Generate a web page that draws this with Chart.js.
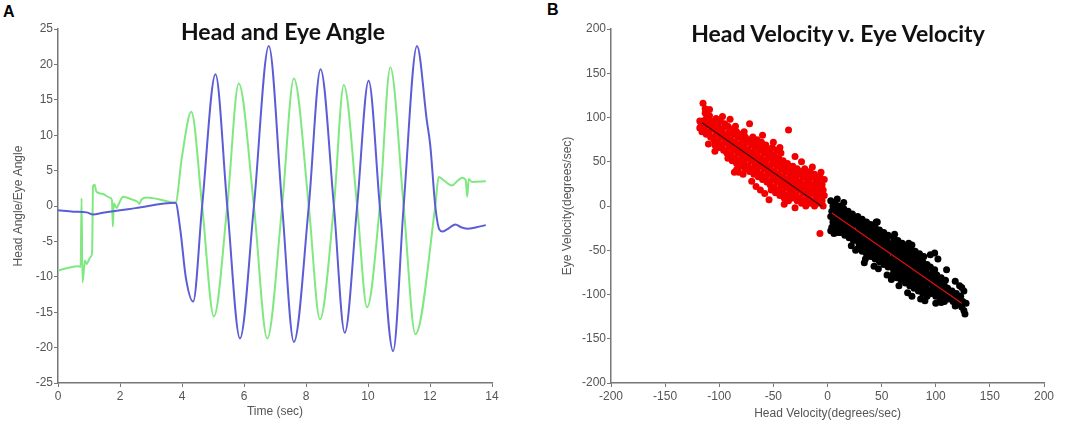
<!DOCTYPE html>
<html>
<head>
<meta charset="utf-8">
<script src="https://cdn.jsdelivr.net/npm/chart.js"></script>
<style>
body{margin:0;background:#fff;width:1084px;height:430px;position:relative;overflow:hidden;font-family:"Liberation Sans",Arial,sans-serif}
canvas{position:absolute;top:0}
#cA{left:0}
#cB{left:540px}
.lbl{position:absolute;font-weight:bold;font-size:16px;color:#000}
.ttl{position:absolute;font-family:Lato,"Open Sans",sans-serif;font-weight:bold;font-size:23px;color:#111;white-space:nowrap;transform:translate(-50%,-50%)}
</style>
</head>
<body>
<div class="lbl" style="left:3px;top:3px">A</div>
<div class="lbl" style="left:547px;top:1px">B</div>
<canvas id="cA" width="540" height="430"></canvas>
<canvas id="cB" width="544" height="430"></canvas>
<div class="ttl" style="left:283px;top:31px">Head and Eye Angle</div>
<div class="ttl" style="left:838px;top:33px">Head Velocity v. Eye Velocity</div>
<script>
// panel A : angles over time (blue = head, green = eye)
const headTime = [0, 0.5, 0.92, 1.13, 1.45, 2.5, 3.79, 3.95, 4.12, 4.36, 4.65, 5.08, 5.46, 5.87, 6.32, 6.80, 7.23, 7.61, 8.09, 8.47, 8.9, 9.25, 9.65, 10.02, 10.38, 10.81, 11.15, 11.58, 11.9, 12.01, 12.17, 12.3, 12.4, 12.55, 12.82, 13.0, 13.2, 13.5, 13.8];
const headAngle = [-0.6, -0.8, -0.9, -1.2, -0.95, -0.3, 0.45, -3.5, -10, -13.5, 0, 18.6, 0, -18.7, 0, 22.6, 0, -19.2, 0, 19.3, 0, -17.9, 0, 17.7, 0, -20.5, 0, 22.6, 12, 8.5, 0, -3.3, -3.6, -3.3, -2.6, -3.0, -3.2, -3.0, -2.7];
const eyeTime = [0, 0.28, 0.65, 0.73, 0.76, 0.79, 0.87, 0.92, 1.05, 1.10, 1.13, 1.18, 1.24, 1.45, 1.66, 1.74, 1.77, 1.80, 1.89, 1.97, 2.10, 2.40, 2.56, 2.63, 2.69, 2.87, 3.35, 3.79, 4.0, 4.30, 4.65, 5.03, 5.46, 5.83, 6.32, 6.75, 7.23, 7.61, 8.09, 8.45, 8.9, 9.22, 9.65, 9.97, 10.38, 10.72, 11.15, 11.53, 12.17, 12.28, 12.45, 12.71, 12.9, 13.03, 13.15, 13.2, 13.25, 13.35, 13.8];
const eyeAngle = [-9.1, -8.8, -8.5, -8.6, 1.1, -10.8, -7.7, -8.2, -7.2, -6.5, 2.8, 3.0, 2.0, 1.7, 1.2, 0.85, -2.9, 0.4, -0.3, 0.4, 1.3, 0.9, 0.6, 0.3, 0.9, 1.2, 0.85, 0.45, 7.0, 13.3, 0, -15.6, 0, 17.3, 0, -18.7, 0, 18.0, 0, -16.0, 0, 17.1, 0, -14.3, 0, 19.6, 0, -18.1, 0, 4.1, 3.6, 2.9, 3.6, 4.0, 3.7, 1.3, 3.8, 3.4, 3.5];
const timeTicks = [0, 2, 4, 6, 8, 10, 12, 14];
const angleTicks = [-25, -20, -15, -10, -5, 0, 5, 10, 15, 20, 25];

// panel B : head velocity vs eye velocity
const velTicks = [-200, -150, -100, -50, 0, 50, 100, 150, 200];
const fitNeg = [[-116, 94], [-5, -0.6]];
const fitPos = [[4, -8], [124, -110]];
// red = negative head velocity
const redCloud = [
  [-116,84],[-117,90],[-115,96],
  [-112,81],[-113,87],[-111,93],[-112,99],[-113,105],
  [-108,78],[-109,84],[-107,90],[-108,96],[-109,102],
  [-104,69],[-105,75],[-103,81],[-104,87],[-105,93],[-103,99],
  [-100,66],[-101,72],[-99,78],[-100,84],[-101,90],[-99,96],
  [-96,63],[-97,69],[-95,75],[-96,81],[-97,87],[-95,93],
  [-92,54],[-93,60],[-91,66],[-92,72],[-93,78],[-91,84],[-92,90],
  [-88,51],[-89,57],[-87,63],[-88,69],[-89,75],[-87,81],[-88,87],
  [-84,48],[-85,54],[-83,60],[-84,66],[-85,72],[-83,78],[-84,84],[-85,90],
  [-80,45],[-81,51],[-79,57],[-80,63],[-81,69],[-79,75],[-80,81],
  [-76,42],[-77,48],[-75,54],[-76,60],[-77,66],[-75,72],[-76,78],[-77,84],
  [-72,39],[-73,45],[-71,51],[-72,57],[-73,63],[-71,69],[-72,75],
  [-68,36],[-69,42],[-67,48],[-68,54],[-69,60],[-67,66],[-68,72],[-69,78],
  [-64,33],[-65,39],[-63,45],[-64,51],[-65,57],[-63,63],[-64,69],[-65,75],
  [-60,30],[-61,36],[-59,42],[-60,48],[-61,54],[-59,60],[-60,66],[-61,72],
  [-56,27],[-57,33],[-55,39],[-56,45],[-57,51],[-55,57],[-56,63],[-57,69],
  [-52,18],[-53,24],[-51,30],[-52,36],[-53,42],[-51,48],[-52,54],[-53,60],[-51,66],
  [-48,15],[-49,21],[-47,27],[-48,33],[-49,39],[-47,45],[-48,51],[-49,57],[-47,63],
  [-44,12],[-45,18],[-43,24],[-44,30],[-45,36],[-43,42],[-44,48],[-45,54],[-43,60],
  [-40,9],[-41,15],[-39,21],[-40,27],[-41,33],[-39,39],[-40,45],[-41,51],
  [-36,6],[-37,12],[-35,18],[-36,24],[-37,30],[-35,36],[-36,42],[-37,48],
  [-32,9],[-33,15],[-31,21],[-32,27],[-33,33],[-31,39],[-32,45],
  [-28,6],[-29,12],[-27,18],[-28,24],[-29,30],[-27,36],[-28,42],
  [-24,3],[-25,9],[-23,15],[-24,21],[-25,27],[-23,33],[-24,39],
  [-20,0],[-21,6],[-19,12],[-20,18],[-21,24],[-19,30],[-20,36],[-21,42],
  [-16,3],[-17,9],[-15,15],[-16,21],[-17,27],[-15,33],[-16,39],
  [-12,0],[-13,6],[-11,12],[-12,18],[-13,24],[-11,30],[-12,36],
  [-8,3],[-9,9],[-7,15],[-8,21],[-9,27],[-7,33],
  [-4,0],[-5,6],[-3,12],[-4,18],[-5,24],[-3,30],
  [-115,116],[-113,110],[-109,109],[-118,96],[-118,88],[-110,70],[-104,62],[-97,101],
  [-90,98],[-86,38],[-82,38],[-78,36],[-84,41],[-70,28],[-66,22],[-62,18],[-54,7],
  [-58,14],[-36,86],[-60,80],[-50,72],[-44,66],[-30,56],[-24,50],[-14,44],[-6,38],
  [-40,2],[-30,-2],[-72,93],[-7,-31]
];
// black = positive head velocity
const blackCloud = [
  [4,-24],[5,-18],[3,-12],[4,-6],[5,0],[3,6],
  [8,-27],[9,-21],[7,-15],[8,-9],[9,-3],[7,3],
  [12,-30],[13,-24],[11,-18],[12,-12],[13,-6],[11,0],
  [16,-33],[17,-27],[15,-21],[16,-15],[17,-9],[15,-3],
  [20,-36],[21,-30],[19,-24],[20,-18],[21,-12],[19,-6],
  [24,-39],[25,-33],[23,-27],[24,-21],[25,-15],[23,-9],
  [28,-48],[29,-42],[27,-36],[28,-30],[29,-24],[27,-18],[28,-12],
  [32,-51],[33,-45],[31,-39],[32,-33],[33,-27],[31,-21],[32,-15],
  [36,-54],[37,-48],[35,-42],[36,-36],[37,-30],[35,-24],[36,-18],
  [40,-57],[41,-51],[39,-45],[40,-39],[41,-33],[39,-27],[40,-21],
  [44,-60],[45,-54],[43,-48],[44,-42],[45,-36],[43,-30],[44,-24],[45,-18],
  [48,-63],[49,-57],[47,-51],[48,-45],[49,-39],[47,-33],[48,-27],
  [52,-66],[53,-60],[51,-54],[52,-48],[53,-42],[51,-36],[52,-30],
  [56,-69],[57,-63],[55,-57],[56,-51],[57,-45],[55,-39],[56,-33],
  [60,-78],[61,-72],[59,-66],[60,-60],[61,-54],[59,-48],[60,-42],[61,-36],
  [64,-81],[65,-75],[63,-69],[64,-63],[65,-57],[63,-51],[64,-45],[65,-39],
  [68,-84],[69,-78],[67,-72],[68,-66],[69,-60],[67,-54],[68,-48],[69,-42],
  [72,-87],[73,-81],[71,-75],[72,-69],[73,-63],[71,-57],[72,-51],[73,-45],
  [76,-90],[77,-84],[75,-78],[76,-72],[77,-66],[75,-60],[76,-54],[77,-48],[75,-42],
  [80,-93],[81,-87],[79,-81],[80,-75],[81,-69],[79,-63],[80,-57],[81,-51],
  [84,-96],[85,-90],[83,-84],[84,-78],[85,-72],[83,-66],[84,-60],[85,-54],
  [88,-99],[89,-93],[87,-87],[88,-81],[89,-75],[87,-69],[88,-63],[89,-57],
  [92,-102],[93,-96],[91,-90],[92,-84],[93,-78],[91,-72],[92,-66],
  [96,-99],[97,-93],[95,-87],[96,-81],[97,-75],[95,-69],
  [100,-102],[101,-96],[99,-90],[100,-84],[101,-78],[99,-72],
  [104,-105],[105,-99],[103,-93],[104,-87],[105,-81],
  [108,-108],[109,-102],[107,-96],[108,-90],[109,-84],
  [112,-105],[113,-99],[111,-93],
  [116,-108],[117,-102],[115,-96],
  [120,-111],[121,-105],[119,-99],
  [124,-114],[125,-108],[123,-102],
  [3,-28],[6,-31],[10,-30],[22,-45],[26,-50],[34,-64],[35,-60],[47,-71],[43,-68],
  [55,-78],[59,-83],[66,-90],[74,-98],[78,-102],[86,-105],[90,-107],[100,-110],
  [105,-109],[118,-113],[126,-118],[127,-122],[128,-110],[126,-96],[122,-90],
  [99,-53],[95,-55],[102,-60],[110,-72],[78,-44],[62,-32],[46,-18],[15,4],[9,8],
  [118,-85],[124,-92]
];

const pts = (xs, ys) => xs.map((x, i) => ({x: x, y: ys[i]}));
const pairs = list => list.map(p => ({x: p[0], y: p[1]}));

const tickFont = {family: '"Liberation Sans", Arial, sans-serif', size: 12};
const titleFont = {family: '"Liberation Sans", Arial, sans-serif', size: 12};

function axis(tickList, min, max, fixedSize, horizontal, titleText, titlePad) {
  return {
    type: 'linear',
    min: min,
    max: max,
    afterBuildTicks: s => { s.ticks = tickList.map(v => ({value: v})); },
    afterFit: s => { if (horizontal) s.height = fixedSize; else s.width = fixedSize; },
    grid: {display: true, drawOnChartArea: false, tickLength: 4, color: '#777', lineWidth: 1},
    border: {display: true, color: '#777', width: 1.5},
    ticks: {color: '#555', font: tickFont, padding: horizontal ? 2 : 1, maxRotation: 0, autoSkip: false},
    title: {display: true, text: titleText, color: '#555', font: titleFont, padding: titlePad}
  };
}

new Chart(document.getElementById('cA'), {
  type: 'line',
  data: {
    datasets: [
      {data: pts(headTime, headAngle), borderColor: '#5c5cd6', borderWidth: 2, pointRadius: 0, cubicInterpolationMode: 'monotone'},
      {data: pts(eyeTime, eyeAngle), borderColor: '#80e880', borderWidth: 2, pointRadius: 0, cubicInterpolationMode: 'monotone'}
    ]
  },
  options: {
    responsive: false,
    animation: false,
    devicePixelRatio: 1,
    layout: {padding: {left: 0, right: 48, top: 29, bottom: 0}},
    plugins: {legend: {display: false}, tooltip: {enabled: false}},
    scales: {
      x: axis(timeTicks, 0, 14, 47, true, 'Time (sec)', {top: 0, bottom: 11}),
      y: axis(angleTicks, -25, 25, 58, false, 'Head Angle/Eye Angle', {top: 11, bottom: 0})
    }
  }
});

new Chart(document.getElementById('cB'), {
  type: 'scatter',
  data: {
    datasets: [
      {type: 'line', data: pairs(fitNeg), borderColor: '#3a1010', borderWidth: 1.2, pointRadius: 0},
      {type: 'line', data: pairs(fitPos), borderColor: '#e01010', borderWidth: 1.2, pointRadius: 0},
      {data: pairs(blackCloud), backgroundColor: '#000', borderWidth: 0, pointRadius: 3.5},
      {data: pairs(redCloud), backgroundColor: '#f20000', borderWidth: 0, pointRadius: 3.5}
    ]
  },
  options: {
    responsive: false,
    animation: false,
    devicePixelRatio: 1,
    layout: {padding: {left: 0, right: 40, top: 29, bottom: 0}},
    plugins: {legend: {display: false}, tooltip: {enabled: false}},
    scales: {
      x: axis(velTicks, -200, 200, 47, true, 'Head Velocity(degrees/sec)', {top: 0, bottom: 9}),
      y: axis(velTicks, -200, 200, 71, false, 'Eye Velocity(degrees/sec)', {top: 20, bottom: 0})
    }
  }
});
</script>
</body>
</html>
